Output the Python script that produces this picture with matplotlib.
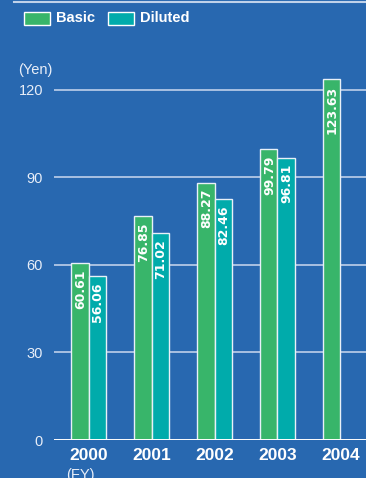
import matplotlib
matplotlib.use('Agg')
import matplotlib.pyplot as plt
from matplotlib.patches import Rectangle
from matplotlib.lines import Line2D
import numpy as np

plt.rcParams['font.family'] = ['Liberation Sans', 'DejaVu Sans']

years = ['2000', '2001', '2002', '2003', '2004']
basic = [60.61, 76.85, 88.27, 99.79, 123.63]
diluted = [56.06, 71.02, 82.46, 96.81, None]
yticks = [0, 30, 60, 90, 120]

BG = '#2868B0'
GREEN = '#38B56A'
TEAL = '#00ABAB'
GRID = '#A9C1E2'
W, H = 366, 478

fig = plt.figure(figsize=(W / 100, H / 100), dpi=100, facecolor=BG)
ax = fig.add_axes([54 / W, 38 / H, 1 - 54 / W, 379.2 / H])
ax.set_facecolor(BG)

x = np.arange(len(years))
bw = 0.278
off = 0.139


def bar_label(xpos, v):
    # value written upward inside the top of the bar
    ax.annotate(f'{v:.2f}', (xpos, v), xytext=(0.5, -4.5), textcoords='offset points',
                rotation=90, ha='center', va='top', color='white',
                family='DejaVu Sans', fontsize=9, fontweight='bold', zorder=4)


# gridlines behind bars
for v in yticks[1:]:
    ax.axhline(v, color=GRID, lw=1.4, zorder=0)
ax.axhline(0, color='white', lw=1.4, zorder=3)

for i, v in enumerate(basic):
    ax.bar(x[i] - off, v, bw, color=GREEN, edgecolor='#E8F0F8', lw=1, zorder=2)
    bar_label(x[i] - off, v)
for i, v in enumerate(diluted):
    if v is None:
        continue
    ax.bar(x[i] + off, v, bw, color=TEAL, edgecolor='#E8F0F8', lw=1, zorder=2)
    bar_label(x[i] + off, v)

ax.set_xlim(-0.548, 4.405)
ax.set_ylim(0, 130)
ax.set_xticks(x)
ax.set_xticklabels(years, fontsize=12.5, fontweight='bold', color='white')
ax.set_yticks(yticks)
ax.set_yticklabels([str(t) for t in yticks], fontsize=10.5, color='#E8EEF8')
ax.tick_params(length=0)
ax.tick_params(axis='x', pad=6)
ax.tick_params(axis='y', pad=8)
for s in ax.spines.values():
    s.set_visible(False)

fig.text(18 / W, 1 - 70 / H, '(Yen)', fontsize=10.5, color='#E8EEF8', va='center', ha='left')
fig.text(80 / W, 1 - 475 / H, '(FY)', fontsize=10.5, color='#E8EEF8', va='center', ha='center')

# legend
fig.add_artist(Rectangle((24 / W, 1 - 25 / H), 26 / W, 13 / H, transform=fig.transFigure,
                         facecolor=GREEN, edgecolor='white', lw=1))
fig.text(56 / W, 1 - 18.5 / H, 'Basic', fontsize=10.5, fontweight='bold', color='white', va='center')
fig.add_artist(Rectangle((108 / W, 1 - 25 / H), 26 / W, 13 / H, transform=fig.transFigure,
                         facecolor=TEAL, edgecolor='white', lw=1))
fig.text(140 / W, 1 - 18.5 / H, 'Diluted', fontsize=10.5, fontweight='bold', color='white', va='center')

fig.add_artist(Line2D([14 / W, 1], [1 - 1.5 / H, 1 - 1.5 / H], transform=fig.transFigure,
                      color='#C0D2EA', lw=1.5))

fig.savefig('out.png', dpi=100, facecolor=BG)
